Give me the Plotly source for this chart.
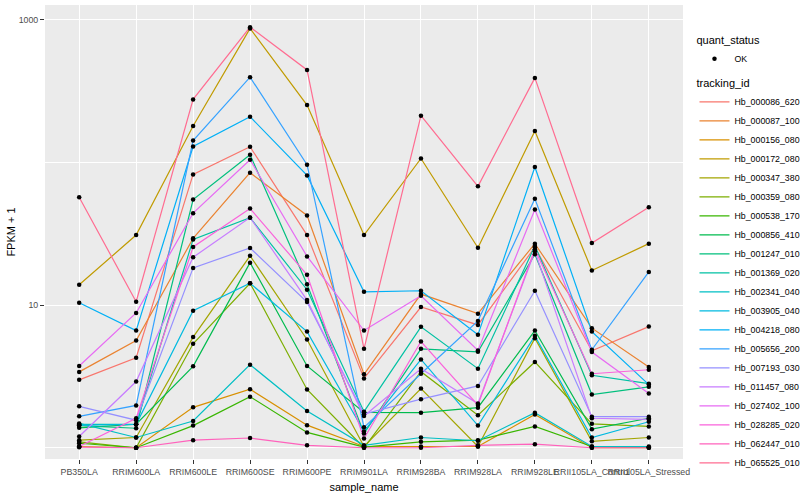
import plotly.graph_objects as go

samples = ["PB350LA", "RRIM600LA", "RRIM600LE", "RRIM600SE", "RRIM600PE", "RRIM901LA",
           "RRIM928BA", "RRIM928LA", "RRIM928LE", "RRII105LA_Control", "RRII105LA_Stressed"]

tracking_ids = ["Hb_000086_620", "Hb_000087_100", "Hb_000156_080", "Hb_000172_080",
                "Hb_000347_380", "Hb_000359_080", "Hb_000538_170", "Hb_000856_410",
                "Hb_001247_010", "Hb_001369_020", "Hb_002341_040", "Hb_003905_040",
                "Hb_004218_080", "Hb_005656_200", "Hb_007193_030", "Hb_011457_080",
                "Hb_027402_100", "Hb_028285_020", "Hb_062447_010", "Hb_065525_010"]

# FPKM + 1 per sample (same order as samples)
Hb_000086_620 = [2.99, 4.27, 82.2, 128.3, 30.9, 3.06, 9.68, 7.25, 25.4, 4.78, 7.06]
Hb_000087_100 = [3.40, 5.64, 29.3, 84.5, 42.4, 3.27, 11.93, 8.70, 26.9, 6.88, 3.68]
Hb_000156_080 = [1.02, 1.0, 1.92, 2.57, 1.44, 1.02, 1.02, 1.02, 1.71, 1.0, 1.0]
Hb_000172_080 = [13.85, 30.9, 179.7, 866, 251.6, 30.9, 106.3, 25.2, 165.8, 17.45, 26.9]
Hb_000347_380 = [1.13, 1.18, 5.96, 22.1, 5.73, 1.02, 2.60, 1.02, 5.86, 1.11, 1.18]
Hb_000359_080 = [1.10, 1.0, 5.35, 14.2, 2.56, 1.0, 3.41, 1.69, 3.99, 1.47, 1.41]
Hb_000538_170 = [1.075, 1.0, 1.43, 2.28, 1.28, 1.01, 1.10, 1.13, 1.41, 1.02, 1.01]
Hb_000856_410 = [1.38, 1.46, 3.72, 19.8, 3.74, 1.77, 1.76, 1.91, 6.62, 1.35, 1.61]
Hb_001247_010 = [1.43, 1.37, 54.8, 112.8, 14.0, 1.26, 4.93, 4.70, 22.7, 2.36, 2.67]
Hb_001369_020 = [1.46, 1.46, 28.8, 40.9, 12.79, 1.79, 7.03, 3.58, 25.9, 3.22, 2.81]
Hb_002341_040 = [1.48, 1.18, 1.54, 3.82, 1.81, 1.04, 1.18, 1.12, 1.76, 1.02, 1.02]
Hb_003905_040 = [1.44, 1.46, 9.13, 14.2, 6.51, 1.30, 4.16, 1.43, 6.08, 1.18, 1.52]
Hb_004218_080 = [10.37, 6.62, 128.9, 208.5, 80.9, 12.38, 12.58, 6.18, 92.6, 6.51, 2.77]
Hb_005656_200 = [1.66, 1.98, 141.9, 394.5, 96.1, 1.39, 3.30, 7.73, 55.4, 4.86, 17.06]
Hb_007193_030 = [1.95, 1.56, 18.2, 25.1, 10.49, 1.72, 2.19, 2.71, 12.58, 1.65, 1.65]
Hb_011457_080 = [1.20, 2.91, 21.6, 41.0, 10.83, 1.67, 3.58, 2.04, 23.8, 1.61, 1.58]
Hb_027402_100 = [3.74, 8.80, 44.0, 104.1, 21.9, 6.62, 11.61, 4.80, 46.7, 4.68, 2.40]
Hb_028285_020 = [1.02, 1.61, 25.5, 47.4, 16.27, 1.16, 5.55, 1.99, 24.6, 3.30, 3.52]
Hb_062447_010 = [1.01, 1.0, 1.13, 1.17, 1.04, 1.0, 1.0, 1.04, 1.06, 1.0, 1.0]
Hb_065525_010 = [56.9, 10.54, 275.7, 884, 443.5, 4.93, 212, 67.8, 390, 27.2, 48.4]

series = [Hb_000086_620, Hb_000087_100, Hb_000156_080, Hb_000172_080, Hb_000347_380,
          Hb_000359_080, Hb_000538_170, Hb_000856_410, Hb_001247_010, Hb_001369_020,
          Hb_002341_040, Hb_003905_040, Hb_004218_080, Hb_005656_200, Hb_007193_030,
          Hb_011457_080, Hb_027402_100, Hb_028285_020, Hb_062447_010, Hb_065525_010]

quant_status = ["OK"]
y_tick_vals = [10, 1000]
y_tick_text = ["10", "1000"]

colors = ["#F8766D", "#EA8331", "#D89000", "#C09B00", "#A3A500", "#7CAE00", "#39B600",
          "#00BB4E", "#00BF7D", "#00C1A3", "#00BFC4", "#00BAE0", "#00B0F6", "#35A2FF",
          "#9590FF", "#C77CFF", "#E76BF3", "#FA62DB", "#FF62BC", "#FF6C91"]

FONT = "Liberation Sans, Arial, Helvetica, sans-serif"

fig = go.Figure()
for tid, vals, col in zip(tracking_ids, series, colors):
    fig.add_trace(go.Scatter(x=samples, y=vals, mode="lines", name=tid,
                             line=dict(color=col, width=1.2),
                             legend="legend2", hoverinfo="skip"))

pts_x = [s for vals in series for s in samples]
pts_y = [v for vals in series for v in vals]
fig.add_trace(go.Scatter(x=pts_x, y=pts_y, mode="markers", name=quant_status[0],
                         marker=dict(color="black", size=4.5), legend="legend"))

fig.update_layout(
    width=800, height=500,
    margin=dict(l=45, r=117, t=5, b=41, autoexpand=False),
    plot_bgcolor="#EBEBEB", paper_bgcolor="white",
    font=dict(family=FONT, size=9, color="black"),
    xaxis=dict(type="category", range=[-0.6, 10.6], tickangle=0,
               showgrid=True, gridcolor="white", gridwidth=1.4,
               ticks="outside", ticklen=4, tickwidth=1, tickcolor="#333333",
               tickfont=dict(size=8.8, color="#4D4D4D", family=FONT),
               title=dict(text="sample_name", font=dict(size=11, family=FONT), standoff=7),
               zeroline=False, showline=False, automargin=False),
    yaxis=dict(type="log", range=[-0.0788, 3.1016],
               tickmode="array", tickvals=y_tick_vals, ticktext=y_tick_text,
               showgrid=True, gridcolor="white", gridwidth=1.4,
               ticks="outside", ticklen=4, tickwidth=1, tickcolor="#333333",
               tickfont=dict(size=8.8, color="#4D4D4D", family=FONT),
               title=dict(text="FPKM + 1", font=dict(size=11, family=FONT), standoff=0),
               minor=dict(tickmode="array", tickvals=[1, 100], showgrid=True,
                          gridcolor="white", gridwidth=0.7, ticklen=0),
               zeroline=False, showline=False, automargin=False),
    legend=dict(title=dict(text="quant_status", font=dict(size=11, family=FONT)),
                x=1.018, xanchor="left", y=0.945, yanchor="top",
                font=dict(size=8.8, family=FONT), bgcolor="rgba(255,255,255,0)",
                itemwidth=30),
    legend2=dict(title=dict(text="tracking_id", font=dict(size=11, family=FONT)),
                 x=1.018, xanchor="left", y=0.85, yanchor="top",
                 font=dict(size=8.8, family=FONT), bgcolor="rgba(255,255,255,0)",
                 itemwidth=30),
    showlegend=True,
)

fig.write_html("out.html", config={"displayModeBar": False},
               post_script="document.body.style.margin='0px';")
